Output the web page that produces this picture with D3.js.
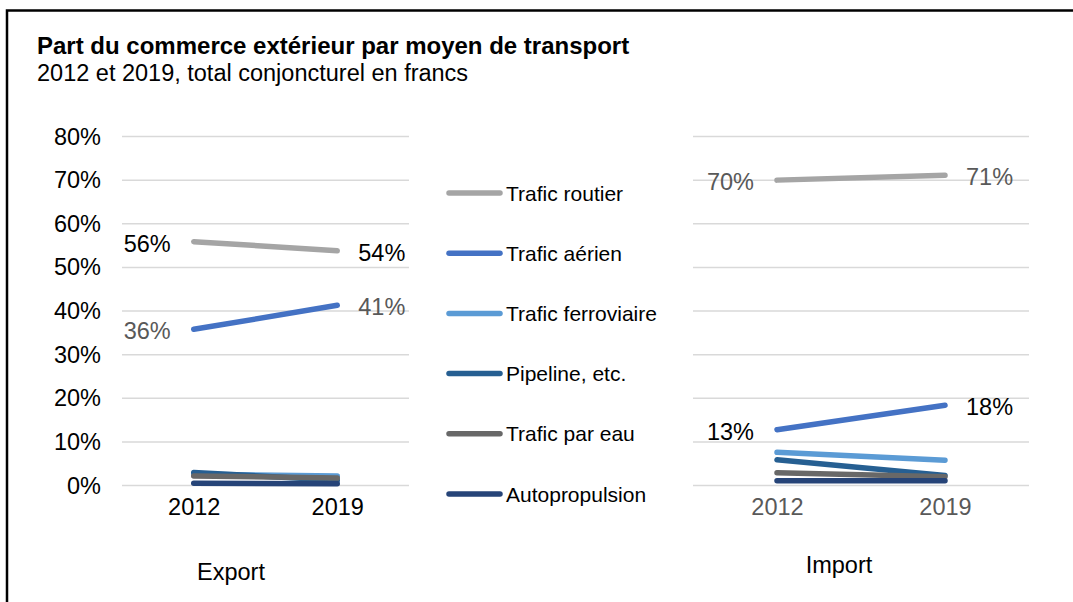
<!DOCTYPE html>
<html><head><meta charset="utf-8">
<script src="https://cdn.jsdelivr.net/npm/d3@7"></script>
<style>
body{margin:0;background:#fff;}
text{font-family:"Liberation Sans",Arial,sans-serif;}
</style></head>
<body>
<svg id="chart" width="1073" height="602"></svg>
<script>
const categories = ["2012", "2019"];
const seriesNames = ["Trafic routier", "Trafic aérien", "Trafic ferroviaire", "Pipeline, etc.", "Trafic par eau", "Autopropulsion"];
const seriesColors = ["#a5a5a5", "#4472c4", "#5b9bd5", "#265f92", "#686868", "#264478"];
const exportValues = [
  [55.9, 53.8],
  [35.8, 41.3],
  [2.6, 2.2],
  [3.0, 1.2],
  [2.2, 1.7],
  [0.5, 0.4]
];
const importValues = [
  [70.0, 71.1],
  [12.8, 18.4],
  [7.6, 5.8],
  [5.9, 2.3],
  [2.9, 2.0],
  [1.1, 1.1]
];
const yTicks = [0, 10, 20, 30, 40, 50, 60, 70, 80];
const panelNames = ["Export", "Import"];
const title = "Part du commerce extérieur par moyen de transport";
const subtitle = "2012 et 2019, total conjoncturel en francs";

const svg = d3.select("#chart");
svg.append("rect").attr("width",1073).attr("height",602).attr("fill","#fff");
// frame
svg.append("path").attr("d","M7,602 V10.5 H1073").attr("fill","none").attr("stroke","#000").attr("stroke-width",2.5);

svg.append("text").attr("x",37).attr("y",54).attr("font-size",24).attr("font-weight","bold").attr("fill","#000").text(title);
svg.append("text").attr("x",37).attr("y",81).attr("font-size",23.5).attr("fill","#000").text(subtitle);

const y = d3.scaleLinear().domain([0,80]).range([485.5,136.5]);

const panels = [
  {name: panelNames[0], values: exportValues, x0: 122, x1: 409, yLabels: true, catColor: "#000", nameX: 231, nameY: 580,
   labelColors: ["#000", "#595959"]},
  {name: panelNames[1], values: importValues, x0: 693, x1: 1029, yLabels: false, catColor: "#595959", nameX: 839, nameY: 573,
   labelColors: ["#595959", "#000"]}
];

panels.forEach(p => {
  const g = svg.append("g");
  const x = d3.scalePoint().domain(categories).range([p.x0, p.x1]).padding(0.5);
  // gridlines
  g.append("g").selectAll("line").data(yTicks).join("line")
    .attr("x1",p.x0).attr("x2",p.x1).attr("y1",d=>y(d)).attr("y2",d=>y(d))
    .attr("stroke","#d9d9d9").attr("stroke-width",1.5);
  if (p.yLabels) {
    const ax = g.append("g").attr("transform","translate(101,0)")
      .call(d3.axisLeft(y).tickValues(yTicks).tickFormat(d=>d+"%").tickSize(0).tickPadding(0));
    ax.select(".domain").remove();
    ax.selectAll("text").attr("font-size",23.5).attr("fill","#000").attr("font-family","Liberation Sans, Arial, sans-serif");
  }
  const xa = g.append("g").attr("transform","translate(0,498)")
    .call(d3.axisBottom(x).tickSize(0).tickPadding(0));
  xa.select(".domain").remove();
  xa.selectAll("text").attr("font-size",23.5).attr("fill",p.catColor).attr("dy","0.71em").attr("font-family","Liberation Sans, Arial, sans-serif");

  const line = d3.line().x((d,i)=>x(categories[i])).y(d=>y(d));
  g.append("g").selectAll("path").data(p.values).join("path")
    .attr("d",d=>line(d)).attr("fill","none")
    .attr("stroke",(d,i)=>seriesColors[i]).attr("stroke-width",5.5)
    .attr("stroke-linecap","round");

  // data labels for first two series
  [0,1].forEach(si => {
    p.values[si].forEach((v,ci) => {
      g.append("text")
        .attr("x", ci===0 ? x(categories[ci]) - 23 : x(categories[ci]) + 21)
        .attr("y", y(v) + 10)
        .attr("text-anchor", ci===0 ? "end" : "start")
        .attr("font-size",23.5).attr("fill",p.labelColors[si])
        .text(Math.round(v)+"%");
    });
  });

  g.append("text").attr("x",p.nameX).attr("y",p.nameY).attr("text-anchor","middle")
    .attr("font-size",23.5).attr("fill","#000").text(p.name);
});

// legend
const lg = svg.append("g");
const legY = d3.scalePoint().domain(seriesNames).range([193,494]);
seriesNames.forEach((n,i) => {
  lg.append("line").attr("x1",449).attr("x2",500).attr("y1",legY(n)).attr("y2",legY(n))
    .attr("stroke",seriesColors[i]).attr("stroke-width",5.5).attr("stroke-linecap","round");
  lg.append("text").attr("x",506).attr("y",legY(n)+7.5).attr("font-size",21).attr("fill","#000").text(n);
});
</script>
</body></html>
